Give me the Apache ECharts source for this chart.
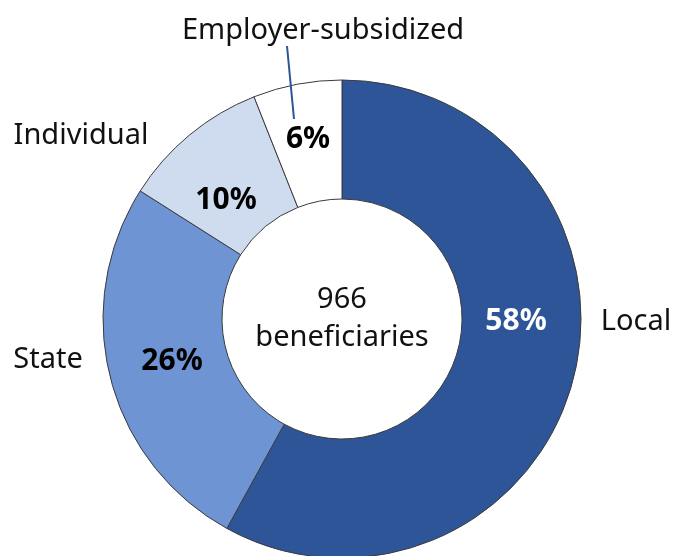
<!DOCTYPE html>
<html>
<head>
<meta charset="utf-8">
<script src="https://cdn.jsdelivr.net/npm/echarts@6/dist/echarts.min.js"></script>
<style>
  html, body { margin: 0; padding: 0; background: #fff; }
  #chart { width: 674px; height: 556px; }
</style>
</head>
<body>
<div id="chart"></div>
<script>
// beneficiaries by source of funding
var categories = ['Local', 'State', 'Individual', 'Employer-subsidized'];
var shares = [58, 26, 10, 6];
var sliceColors = ['#2E5597', '#6E94D3', '#CFDCF0', '#FFFFFF'];
var pctColors = ['#FFFFFF', '#000000', '#000000', '#000000'];
var totalBeneficiaries = 966;

// label placement (px)
var pctPos = [[516, 321], [172, 361], [226, 200], [308, 139]];
var namePos = [[636, 322], [48, 360], [81, 136], [323, 31]];

var FONT = 'Noto Sans';

var chart = echarts.init(document.getElementById('chart'));

var pieData = [];
for (var i = 0; i < categories.length; i++) {
    pieData.push({
        name: categories[i],
        value: shares[i],
        itemStyle: { color: sliceColors[i] },
        label: { color: pctColors[i] }
    });
}

chart.setOption({
    animation: false,
    series: [
        {
            type: 'pie',
            center: [342, 319],
            radius: [120, 239],
            startAngle: 90,
            clockwise: true,
            data: pieData,
            itemStyle: { borderColor: '#3a3a3a', borderWidth: 1 },
            label: {
                show: true,
                position: 'inside',
                formatter: function (p) { return p.value + '%'; },
                fontFamily: FONT,
                fontWeight: 'bold',
                fontSize: 30,
                overflow: 'none'
            },
            labelLine: { show: false },
            labelLayout: function (p) {
                return { x: pctPos[p.dataIndex][0], y: pctPos[p.dataIndex][1], align: 'center', verticalAlign: 'middle' };
            },
            emphasis: { disabled: true }
        },
        {
            type: 'pie',
            center: [342, 319],
            radius: [120, 239],
            startAngle: 90,
            silent: true,
            data: categories.map(function (c, i) { return { name: c, value: shares[i] }; }),
            itemStyle: { color: 'rgba(0,0,0,0)', borderWidth: 0 },
            label: {
                show: true,
                position: 'outside',
                formatter: '{b}',
                color: '#111',
                fontFamily: FONT,
                fontSize: 29,
                overflow: 'none',
                width: 400
            },
            labelLine: { show: false },
            labelLayout: function (p) {
                return { x: namePos[p.dataIndex][0], y: namePos[p.dataIndex][1], align: 'center', verticalAlign: 'middle' };
            }
        }
    ],
    graphic: [
        {
            type: 'text',
            x: 342, y: 319,
            z: 100,
            style: {
                text: totalBeneficiaries + '\nbeneficiaries',
                fill: '#111',
                font: '29px "Noto Sans"',
                lineHeight: 38,
                align: 'center',
                verticalAlign: 'middle'
            }
        },
        {
            type: 'line',
            z: 100,
            shape: { x1: 287, y1: 46, x2: 294, y2: 119 },
            style: { stroke: '#2E5597', lineWidth: 2 }
        }
    ]
});
</script>
</body>
</html>
